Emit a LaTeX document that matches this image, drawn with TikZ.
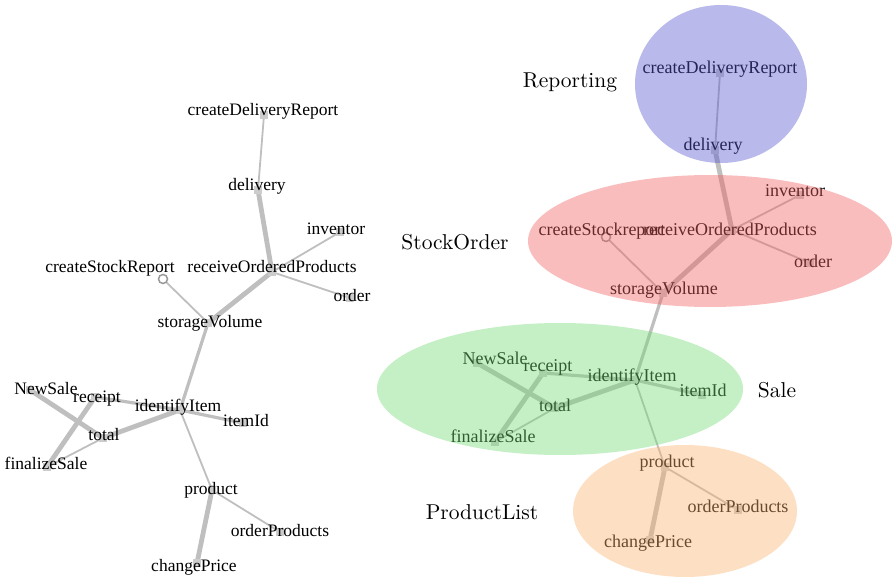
\documentclass[tikz,border=0pt]{standalone}
\usepackage{fontspec}
\setmainfont{Latin Modern Roman}
\newfontfamily\tms{Liberation Serif}
\newfontfamily\grpf{lmroman10-regular}[Extension=.otf]
\definecolor{repC}{RGB}{88,88,207}
\definecolor{stoC}{RGB}{241,98,98}
\definecolor{salC}{RGB}{117,219,117}
\definecolor{proC}{RGB}{250,179,112}
\tikzset{
  lbl/.style={font=\tms\fontsize{17.5}{20}\selectfont, text height=12pt, text depth=4pt, inner sep=0pt},
  lblr/.style={font=\tms\fontsize{18}{20}\selectfont, text height=12pt, text depth=4pt, inner sep=0pt},
  mk/.style={rectangle, fill=black!20, minimum size=8pt, inner sep=0pt},
  hol/.style={circle, draw=black!40, line width=1.5pt, fill=white, minimum size=9pt, inner sep=0pt},
  ethin/.style={draw=black!25, line width=1.8pt},
  emid/.style={draw=black!25, line width=3.2pt},
  ethick/.style={draw=black!25, line width=4.8pt},
  grp/.style={font=\grpf\fontsize{21.5}{25}\selectfont, inner sep=0pt},
  region/.style={fill opacity=0.42, draw=none}
}
\begin{document}
\begin{tikzpicture}[x=1pt,y=-1pt]
\useasboundingbox (0,0) rectangle (894,580);
% ---------------- left graph: node points ----------------
\coordinate (Lcdr) at (264,115);
\coordinate (Ldel) at (258,190);
\coordinate (Lrop) at (272,272);
\coordinate (Linv) at (340,232);
\coordinate (Lord) at (350,298);
\coordinate (Lcsr) at (163,279);
\coordinate (Lsv)  at (208,323);
\coordinate (Lii)  at (180,410);
\coordinate (Lid)  at (243,423);
\coordinate (Lns)  at (30,390);
\coordinate (Lrc)  at (95,397);
\coordinate (Ltot) at (103,438);
\coordinate (Lfs)  at (47,467);
\coordinate (Lpr)  at (212,490);
\coordinate (Lop)  at (280,532);
\coordinate (Lcp)  at (197,563);
% edges
\draw[ethin]  (Lcdr) -- (Ldel);
\draw[ethick] (Ldel) -- (Lrop);
\draw[ethin]  (Lrop) -- (Linv);
\draw[ethin]  (Lrop) -- (Lord);
\draw[ethick] (Lrop) -- (Lsv);
\draw[ethin]  (Lsv) -- (Lcsr);
\draw[emid]   (Lsv) -- (Lii);
\draw[emid]   (Lii) -- (Lrc);
\draw[ethick] (Lii) -- (Ltot);
\draw[emid]   (Lii) -- (Lid);
\draw[ethin]  (Lii) -- (Lpr);
\draw[ethick] (Lns) -- (Ltot);
\draw[ethick] (Lrc) -- (Lfs);
\draw[ethin]  (Ltot) -- (Lfs);
\draw[ethin]  (Lpr) -- (Lop);
\draw[ethick] (Lpr) -- (Lcp);
% markers
\foreach \p in {Lcdr,Ldel,Lrop,Linv,Lord,Lsv,Lii,Lid,Lns,Lrc,Ltot,Lfs,Lpr,Lop,Lcp}
  \node[mk] (m\p) at (\p) {};
\node[hol] (mLcsr) at (Lcsr) {};
% labels
\node[lbl] (tLcdr) at (263,112) {createDeliveryReport};
\node[lbl] (tLdel) at (257,187) {delivery};
\node[lbl] (tLrop) at (272,268) {receiveOrderedProducts};
\node[lbl] (tLinv) at (336,230) {inventor};
\node[lbl] (tLord) at (352,297) {order};
\node[lbl] (tLcsr) at (110,268) {createStockReport};
\node[lbl] (tLsv)  at (210,323) {storageVolume};
\node[lbl] (tLii)  at (178,407) {identifyItem};
\node[lbl] (tLid)  at (246,422) {itemId};
\node[lbl] (tLns)  at (46,390) {NewSale};
\node[lbl] (tLrc)  at (97,398) {receipt};
\node[lbl] (tLtot) at (104,436) {total};
\node[lbl] (tLfs)  at (46,465) {finalizeSale};
\node[lbl] (tLpr)  at (211,490) {product};
\node[lbl] (tLop)  at (280,532) {orderProducts};
\node[lbl] (tLcp)  at (194,567) {changePrice};
% ---------------- right graph: node points ----------------
\coordinate (Rcdr) at (720,73);
\coordinate (Rdel) at (715,150);
\coordinate (Rrop) at (732,230);
\coordinate (Rinv) at (800,195);
\coordinate (Rord) at (810,263);
\coordinate (Rcsr) at (606,237);
\coordinate (Rsv)  at (663,293);
\coordinate (Rii)  at (635,380);
\coordinate (Rid)  at (702,395);
\coordinate (Rns)  at (477,363);
\coordinate (Rrc)  at (543,373);
\coordinate (Rtot) at (555,408);
\coordinate (Rfs)  at (495,442);
\coordinate (Rpr)  at (665,467);
\coordinate (Rop)  at (738,510);
\coordinate (Rcp)  at (650,540);
% edges
\draw[ethin]  (Rcdr) -- (Rdel);
\draw[ethick] (Rdel) -- (Rrop);
\draw[ethin]  (Rrop) -- (Rinv);
\draw[ethin]  (Rrop) -- (Rord);
\draw[ethick] (Rrop) -- (Rsv);
\draw[ethin]  (Rsv) -- (Rcsr);
\draw[emid]   (Rsv) -- (Rii);
\draw[emid]   (Rii) -- (Rrc);
\draw[ethick] (Rii) -- (Rtot);
\draw[emid]   (Rii) -- (Rid);
\draw[ethin]  (Rii) -- (Rpr);
\draw[ethick] (Rns) -- (Rtot);
\draw[ethick] (Rrc) -- (Rfs);
\draw[ethin]  (Rtot) -- (Rfs);
\draw[ethin]  (Rpr) -- (Rop);
\draw[ethick] (Rpr) -- (Rcp);
% markers
\foreach \p in {Rcdr,Rdel,Rrop,Rinv,Rord,Rsv,Rii,Rid,Rns,Rrc,Rtot,Rfs,Rpr,Rop,Rcp}
  \node[mk] (m\p) at (\p) {};
\node[hol] (mRcsr) at (Rcsr) {};
% labels
\node[lblr] (tRcdr) at (720,70) {createDeliveryReport};
\node[lblr] (tRdel) at (713,147) {delivery};
\node[lblr] (tRinv) at (795,193) {inventor};
\node[lblr] (tRcsr) at (602,232) {createStockreport};
\node[lblr] (tRrop) at (730,232) {receiveOrderedProducts};
\node[lblr] (tRord) at (813,263) {order};
\node[lblr] (tRsv)  at (664,290) {storageVolume};
\node[lblr] (tRns)  at (495,360) {NewSale};
\node[lblr] (tRrc)  at (548,367) {receipt};
\node[lblr] (tRii)  at (632,377) {identifyItem};
\node[lblr] (tRid)  at (703,392) {itemId};
\node[lblr] (tRtot) at (555,407) {total};
\node[lblr] (tRfs)  at (493,438) {finalizeSale};
\node[lblr] (tRpr)  at (667,463) {product};
\node[lblr] (tRop)  at (738,508) {orderProducts};
\node[lblr] (tRcp)  at (648,543) {changePrice};
% ---------------- group regions ----------------
\fill[region, repC] (721,84) ellipse [x radius=86pt, y radius=79pt];
\fill[region, stoC] (710,241) ellipse [x radius=182pt, y radius=66pt];
\fill[region, salC] (560,389) ellipse [x radius=183pt, y radius=66pt];
\fill[region, proC] (685,511) ellipse [x radius=112pt, y radius=66pt];
% group labels
\node[grp] (gRep) at (570,82) {Reporting};
\node[grp] (gSto) at (455,242) {StockOrder};
\node[grp] (gSal) at (777,390) {Sale};
\node[grp] (gPro) at (482,512) {ProductList};
\end{tikzpicture}
\end{document}
